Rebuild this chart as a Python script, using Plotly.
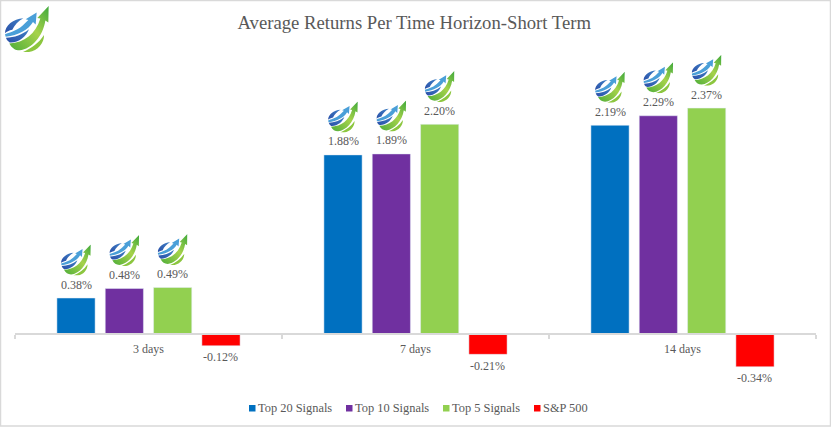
import base64
import plotly.graph_objects as go

days = ["3 days", "7 days", "14 days"]
top20 = [0.38, 1.88, 2.19]
top10 = [0.48, 1.89, 2.29]
top5 = [0.49, 2.20, 2.37]
sp500 = [-0.12, -0.21, -0.34]

names = ["Top 20 Signals", "Top 10 Signals", "Top 5 Signals", "S&P 500"]
colors = ["#0070c0", "#7030a0", "#92d050", "#ff0000"]
series = [top20, top10, top5, sp500]

W, H = 831, 427
L, R, T, B = 15, 15, 48, 45
grey = "#595959"
edge = "#d9d9d9"
font = "Liberation Serif"


def px(x):
    return (x - L) / (W - L - R)


def py(y):
    return 1 - (y - T) / (H - T - B)


# little swoosh logo, same svg used big in the corner and over the bars
logo_svg = """<svg xmlns="http://www.w3.org/2000/svg" viewBox="0 0 132 139" width="264" height="278">
<defs>
<linearGradient id="g" x1="0" y1="1" x2="1" y2="0"><stop offset="0" stop-color="#4fae3a"/><stop offset="0.55" stop-color="#a6d24a"/><stop offset="1" stop-color="#3fa93c"/></linearGradient>
<linearGradient id="b" x1="0" y1="1" x2="1" y2="0"><stop offset="0" stop-color="#2a4fa8"/><stop offset="1" stop-color="#3f7fc4"/></linearGradient>
</defs>
<path d="M0 82 C0 60 25 38 55 37 C40 45 28 58 22 72 C12 74 5 78 0 82 Z" fill="url(#b)"/>
<path d="M0 85 C20 78 42 72 60 52 L70 42 L62 40 L95 20 L92 56 L84 48 C70 72 40 88 2 93 Z" fill="#4a9fd8"/>
<path d="M3 96 C28 95 52 86 72 70 C64 92 40 112 14 110 C8 106 4 101 3 96 Z" fill="url(#b)"/>
<path d="M13 113 C58 112 92 84 106 38 L97 36 L131 0 L130 50 L121 44 C114 92 80 130 44 134 C30 134 20 126 13 113 Z" fill="url(#g)"/>
<path d="M54 139 C80 128 102 112 117 88 C118 112 98 136 72 139 Z" fill="#8cc63f"/>
</svg>"""
logo = "data:image/svg+xml;base64," + base64.b64encode(logo_svg.encode()).decode()

y_min, y_max = -0.5, 3.0
gap = 0.276
group_gap = 0.21
slot = (1 - gap) / 4

fig = go.Figure()
for i in range(4):
    fig.add_trace(go.Bar(x=days, y=series[i], name=names[i], marker_color=colors[i],
                         cliponaxis=False, showlegend=False))

images = [dict(source=logo, xref="paper", yref="paper", x=px(5), y=py(6),
               sizex=44 / (W - L - R), sizey=46 / (H - T - B), xanchor="left", yanchor="top",
               sizing="stretch", layer="above")]
for i in range(3):
    for c in range(len(days)):
        images.append(dict(source=logo, xref="x", yref="y",
                           x=c + (i - 1.5) * slot, y=series[i][c] + 0.235,
                           sizex=0.112, sizey=0.325, xanchor="center", yanchor="bottom",
                           sizing="stretch", layer="above"))

# value labels
annotations = []
for i in range(4):
    for c in range(len(days)):
        v = series[i][c]
        annotations.append(dict(
            x=c + (i - 1.5) * slot, y=v, xref="x", yref="y", showarrow=False,
            text="{:.2f}%".format(v), yanchor="bottom" if v >= 0 else "top",
            yshift=4.5 if v >= 0 else -2.5,
            font=dict(family=font, size=12, color=grey),
        ))

# legend drawn by hand, plotly's own has a much wider swatch gap
shapes = []
legend_marks = [249, 346, 443, 534]
for i in range(4):
    shapes.append(dict(type="rect", xref="paper", yref="paper", x0=px(legend_marks[i]),
                       x1=px(legend_marks[i] + 6.5), y0=py(411.5), y1=py(405),
                       fillcolor=colors[i], line_width=0))
    annotations.append(dict(x=px(legend_marks[i] + 6.5), y=py(408), xref="paper", yref="paper",
                            showarrow=False, text=names[i].replace("&", "&amp;"),
                            xanchor="left", yanchor="middle",
                            font=dict(family=font, size=12.4, color=grey)))

# chart frame
shapes.append(dict(type="rect", xref="paper", yref="paper", x0=px(0.5), x1=px(830.5),
                   y0=py(426), y1=py(0.5), line=dict(color=edge, width=1.5),
                   fillcolor="rgba(0,0,0,0)", layer="below"))

fig.update_layout(
    width=W, height=H,
    margin=dict(l=L, r=R, t=T, b=B, autoexpand=False),
    paper_bgcolor="white", plot_bgcolor="white",
    barmode="group", bargap=gap, bargroupgap=group_gap,
    font=dict(family=font, size=12, color=grey),
    title=dict(text="Average Returns Per Time Horizon-Short Term", x=0.4985, xanchor="center",
               y=0.948, yanchor="middle", font=dict(family=font, size=18.7, color=grey)),
    images=images, annotations=annotations, shapes=shapes,
)
fig.update_xaxes(
    type="category", anchor="free", position=(0 - y_min) / (y_max - y_min),
    showline=True, linecolor=edge, linewidth=1.5,
    tickson="boundaries", ticks="outside", ticklen=4, tickcolor=edge, tickwidth=1.5,
    ticklabelstandoff=4, showgrid=False, tickfont=dict(family=font, size=12, color=grey),
)
fig.update_yaxes(range=[y_min, y_max], visible=False, showgrid=False, zeroline=False)

fig.write_html("out.html", config=dict(displayModeBar=False),
               post_script="document.body.style.margin='0';document.body.style.overflow='hidden';")
